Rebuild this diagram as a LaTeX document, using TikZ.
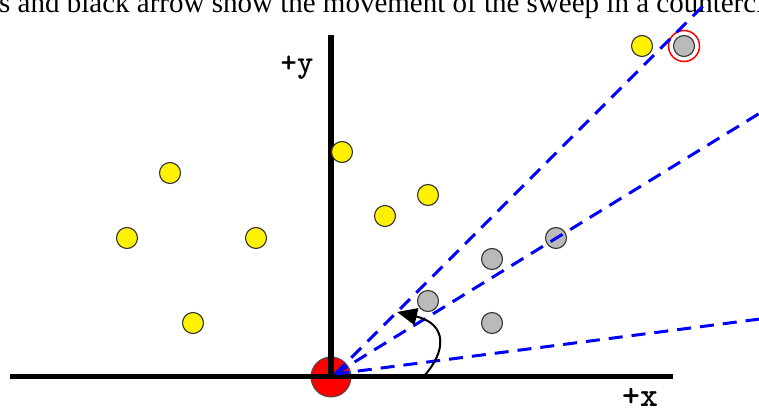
\documentclass[tikz,border=0pt]{standalone}
\usepackage{fontspec}
\setmainfont{Liberation Serif}
\usetikzlibrary{arrows.meta}
\begin{document}
\begin{tikzpicture}[x=1pt,y=-1pt,
  ypt/.style={circle, fill=yellow, draw=black!80, line width=1.1pt, minimum size=21pt, inner sep=0pt},
  gpt/.style={circle, fill=black!27, draw=black!80, line width=1.1pt, minimum size=21pt, inner sep=0pt},
  sweep/.style={blue, line width=3pt, dash pattern=on 14pt off 9pt},
  axisline/.style={line width=5.5pt, black},
  lbl/.style={inner sep=0pt}]
\useasboundingbox (0,0) rectangle (759,412);
\begin{scope}
  \clip (0,0) rectangle (759,412);
  \node[anchor=base west, font=\fontsize{29}{31}\selectfont, inner sep=0pt] (cap) at (-1,13)
    {s and black arrow show the movement of the sweep in a counterclockwise direction};
\end{scope}
% origin marker
\node[circle, fill=red, draw=black!70, line width=1pt, minimum size=40pt, inner sep=0pt] (o) at (331,377) {};
% axes
\coordinate (xl) at (10,376.5);
\coordinate (xr) at (673,376.5);
\coordinate (yb) at (331,376.5);
\coordinate (yt) at (331,35);
\draw[axisline] (xl) -- (xr);
\draw[axisline] (yb) -- (yt);
\node[lbl, font=\ttfamily\bfseries\fontsize{31}{31}\selectfont\addfontfeatures{FakeBold=1.5}] (ly) at (297,68) {+y};
\node[lbl, anchor=base, font=\ttfamily\bfseries\fontsize{34}{34}\selectfont\addfontfeatures{FakeBold=2.5}] (lx) at (640,406) {+x};
% points
\node[ypt] (y1) at (170,173) {};
\node[ypt] (y2) at (127,238) {};
\node[ypt] (y3) at (256,238) {};
\node[ypt] (y4) at (193,323) {};
\node[ypt] (y5) at (342,152) {};
\node[ypt] (y6) at (385,216) {};
\node[ypt] (y7) at (428,195) {};
\node[ypt] (y8) at (642,46) {};
\node[gpt] (g1) at (428,301) {};
\node[gpt] (g2) at (492,259) {};
\node[gpt] (g3) at (492,323) {};
\node[gpt] (g4) at (556,238) {};
\node[gpt] (g5) at (684,46) {};
\node[circle, draw=red, line width=1.5pt, minimum size=31pt, inner sep=0pt] (ring) at (g5) {};
% sweep lines
\coordinate (sw) at (335,374);
\coordinate (e1) at (760,319);
\coordinate (e2) at (760,113);
\coordinate (e3) at (709,0);
\begin{scope}
  \clip (0,0) rectangle (759,412);
  \draw[sweep] (sw) -- (e1);
  \draw[sweep] (sw) -- (e2);
  \draw[sweep] (sw) -- (e3);
\end{scope}
% rotation arrow
\coordinate (a0) at (424,376);
\coordinate (a1) at (397,312);
\draw[line width=2pt, -{Triangle[length=20pt,width=17pt]}] (a0) .. controls (446,352) and (448,324) .. (a1);
\end{tikzpicture}
\end{document}
